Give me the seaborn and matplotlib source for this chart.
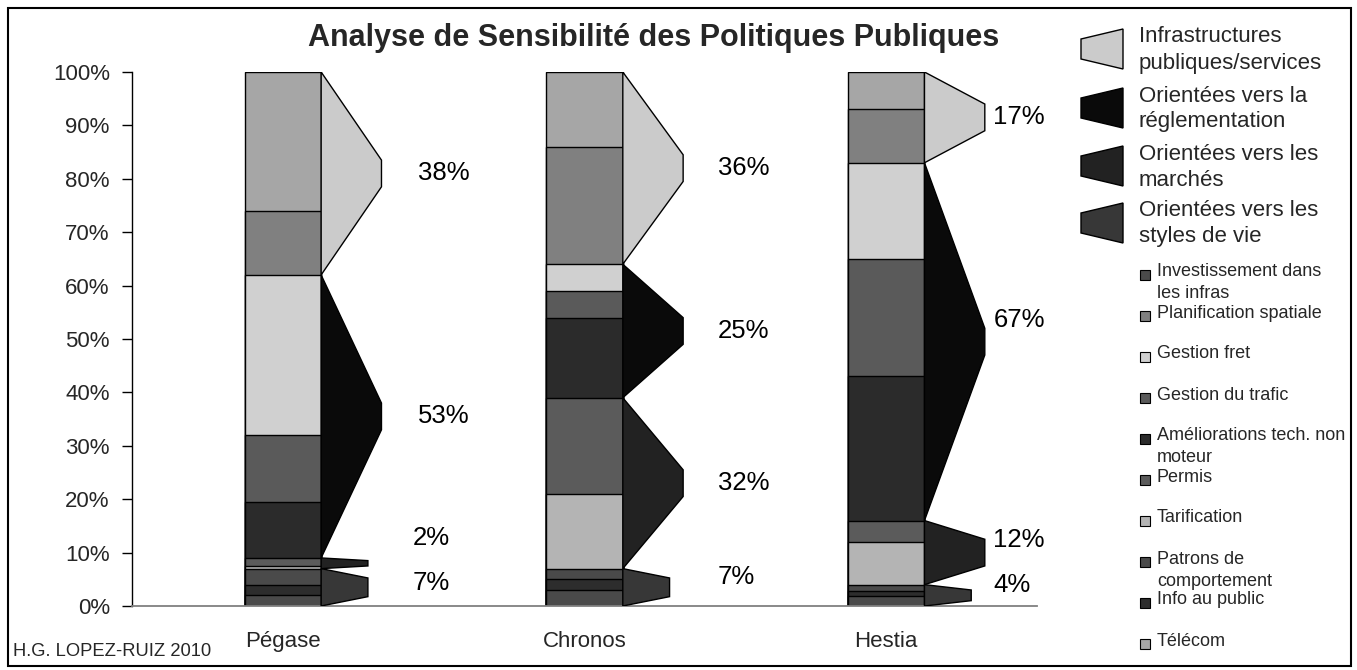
import matplotlib
matplotlib.use("Agg")
import matplotlib.pyplot as plt
import seaborn as sns
import numpy as np
import pandas as pd
from matplotlib.patches import Polygon, Rectangle

# ---------------- data ----------------
scenarios = ["Pégase", "Chronos", "Hestia"]

# policy shares (%) per scenario
investissement = [2.0, 3.0, 1.8]
info_public = [2.0, 2.0, 1.0]
patrons = [3.0, 2.0, 1.2]
tarification = [0.5, 14.0, 8.0]
permis = [1.5, 18.0, 4.0]
ameliorations = [10.5, 15.0, 27.0]
gestion_trafic = [12.5, 5.0, 22.0]
gestion_fret = [30.0, 5.0, 18.0]
planification = [12.0, 22.0, 10.0]
telecom = [26.0, 14.0, 7.0]

legend_labels = ["Investissement dans\nles infras", "Planification spatiale", "Gestion fret",
                 "Gestion du trafic", "Améliorations tech. non\nmoteur", "Permis", "Tarification",
                 "Patrons de\ncomportement", "Info au public", "Télécom"]
legend_values = [investissement, planification, gestion_fret, gestion_trafic, ameliorations,
                 permis, tarification, patrons, info_public, telecom]
legend_colors = ["#4a4a4a", "#808080", "#d0d0d0", "#5a5a5a", "#2b2b2b",
                 "#5b5b5b", "#b4b4b4", "#4a4a4a", "#2d2d2d", "#a6a6a6"]

# stacking order, bottom to top (indices into legend lists)
stack_order = [0, 8, 7, 6, 5, 4, 3, 2, 1, 9]

group_names = ["Infrastructures\npubliques/services", "Orientées vers la\nréglementation",
               "Orientées vers les\nmarchés", "Orientées vers les\nstyles de vie"]
group_colors = ["#cbcbcb", "#0a0a0a", "#222222", "#373737"]
# groups bottom to top: number of stacked layers in each
group_layer_counts = [3, 2, 3, 2]          # styles de vie, marchés, réglementation, infrastructures
group_of_layer_group = [3, 2, 1, 0]        # index into group_names

title = "Analyse de Sensibilité des Politiques Publiques"
credit = "H.G. LOPEZ-RUIZ 2010"

# ---------------- layout ----------------
W, H = 1357, 670
sns.set_theme(style="white")
plt.rcParams["font.family"] = ["Liberation Sans", "DejaVu Sans"]

fig = plt.figure(figsize=(W / 100, H / 100), dpi=100)
ax = fig.add_axes([132 / W, 1 - 606 / H, (1037 - 132) / W, (606 - 72) / H])

def fx(x):
    return x / W

def fy(y):
    return 1 - y / H

bar_w = 0.254
layers = [np.array(legend_values[i], dtype=float) for i in stack_order]
cum = np.cumsum(np.vstack(layers), axis=0)

for k in reversed(range(len(stack_order))):
    df = pd.DataFrame({"scenario": scenarios, "top": cum[k]})
    sns.barplot(data=df, x="scenario", y="top", order=scenarios,
                color=legend_colors[stack_order[k]], saturation=1, width=bar_w,
                edgecolor="black", linewidth=1.0, errorbar=None, ax=ax)

# group wedges
label_dx = [0.448, 0.441, 0.355]
label_dx_small = {(0, 2): 0.43, (0, 3): 0.43}
label_dy = {(0, 2): 4.7, (0, 3): 0.8, (1, 3): 2.0, (2, 1): 4.0, (2, 2): 2.4, (2, 3): 2.0}
for j, sc in enumerate(scenarios):
    xr = j + bar_w / 2
    pos = 0
    bottom = 0.0
    for gi, n in enumerate(group_layer_counts):
        h = sum(layers[pos + t][j] for t in range(n))
        pos += n
        top = bottom + h
        mid = (bottom + top) / 2
        depth = 0.2 if h >= 10 else 0.155
        flat = float(np.clip(0.5 * h, 1.0, 5.0))
        gname = group_of_layer_group[gi]
        poly = Polygon([(xr, top), (xr + depth, mid + flat / 2), (xr + depth, mid - flat / 2), (xr, bottom)],
                       closed=True, facecolor=group_colors[gname], edgecolor="black", linewidth=1.0, zorder=3)
        ax.add_patch(poly)
        ax.text(j + label_dx_small.get((j, gname), label_dx[j]), mid + label_dy.get((j, gname), 0.0),
                f"{h:.0f}%", ha="left", va="center", fontsize=18.5, color="black", zorder=4)
        bottom = top

ax.set_xlim(-0.5, 2.5)
ax.set_ylim(0, 100)
ax.set_yticks(np.arange(0, 101, 10))
ax.set_yticklabels([f"{v}%" for v in range(0, 101, 10)], fontsize=16)
ax.set_xticks(range(len(scenarios)))
ax.set_xticklabels(scenarios, fontsize=16)
ax.set_xlabel("")
ax.set_ylabel("")
ax.tick_params(axis="y", direction="out", length=7, width=1, color="black", pad=9, left=True)
ax.tick_params(axis="x", length=0, pad=18)
for s in ["top", "right"]:
    ax.spines[s].set_visible(False)
ax.spines["left"].set_color("black")
ax.spines["left"].set_linewidth(1.0)
ax.spines["bottom"].set_color("#808080")
ax.spines["bottom"].set_linewidth(1.3)
ax.grid(False)

# title and credit
fig.text(fx(654), fy(38), title, ha="center", va="center", fontsize=22, weight="bold")
fig.text(fx(13), fy(651), credit, ha="left", va="center", fontsize=13.2)

# upper legend: group wedges
grp_centers = [49, 108, 166, 223]
for gname, yc in enumerate(grp_centers):
    xl, xr2 = 1081, 1123
    pts = [(fx(xl), fy(yc - 10)), (fx(xr2), fy(yc - 20)), (fx(xr2), fy(yc + 20)), (fx(xl), fy(yc + 10))]
    fig.patches.append(Polygon(pts, closed=True, transform=fig.transFigure,
                               facecolor=group_colors[gname], edgecolor="black", linewidth=1.0))
    lines = group_names[gname].split("\n")
    for li, txt in enumerate(lines):
        fig.text(fx(1139), fy(yc - 12 + 26 * li), txt, ha="left", va="center", fontsize=16)

# lower legend: policy squares
for i, lab in enumerate(legend_labels):
    yc = 275 + 41 * i
    fig.patches.append(Rectangle((fx(1140), fy(yc + 5)), 10 / W, 10 / H, transform=fig.transFigure,
                                 facecolor=legend_colors[i], edgecolor="black", linewidth=0.8))
    for li, txt in enumerate(lab.split("\n")):
        fig.text(fx(1157), fy(yc - 3 + 22 * li), txt, ha="left", va="center", fontsize=13.0)

# outer frame
fig.patches.append(Rectangle((fx(8), fy(666)), (1351 - 8) / W, (666 - 8) / H, transform=fig.transFigure,
                             fill=False, edgecolor="black", linewidth=1.5))

fig.savefig("out.png", dpi=100, facecolor="white")
